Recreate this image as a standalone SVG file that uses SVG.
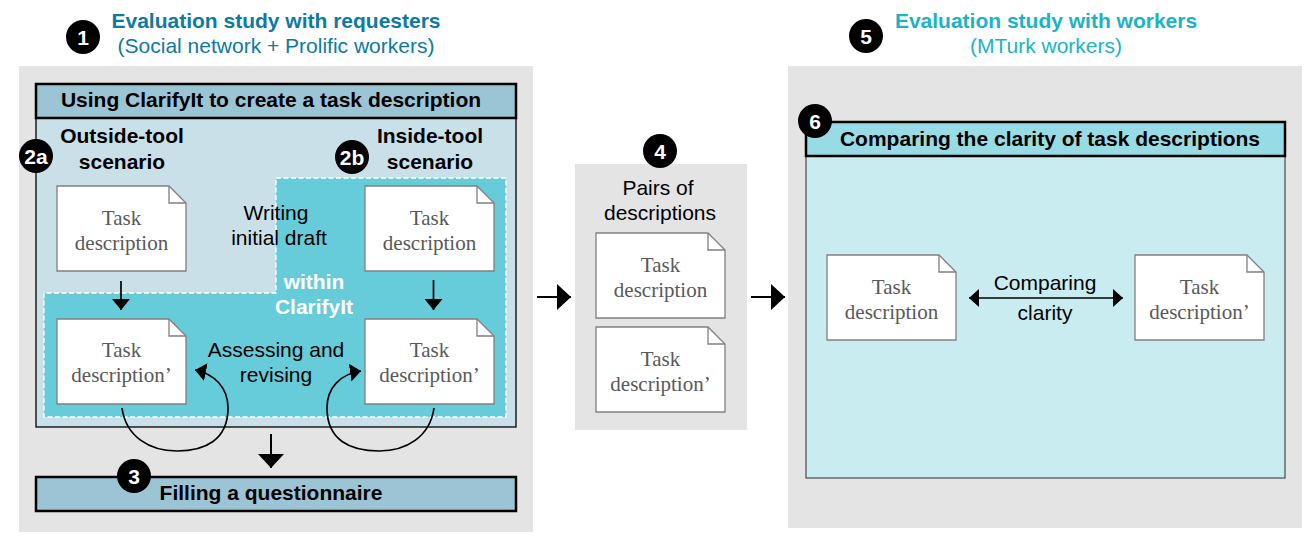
<svg xmlns="http://www.w3.org/2000/svg" width="1316" height="542" viewBox="0 0 1316 542">
<style>
text{font-family:"Liberation Sans",Arial,sans-serif;text-anchor:middle;fill:#000}
.h{font-size:21px;font-weight:700}
.hs{font-size:21px}
.b{font-size:21px;font-weight:700}
.r{font-size:21px}
.d{font-family:"Liberation Serif","Times New Roman",serif;font-size:21px;fill:#595959}
.n{font-family:"Liberation Sans",Arial,sans-serif;font-size:21px;font-weight:700;fill:#fff}
.doc{fill:#fff;stroke:#808080;stroke-width:1.3}
.fold{fill:none;stroke:#808080;stroke-width:1.3}
.panel{fill:#e4e4e4}
.ln{fill:none;stroke:#000;stroke-width:1.7}
.ln2{fill:none;stroke:#000;stroke-width:2}
</style>
<defs>
<marker id="ah" markerUnits="userSpaceOnUse" markerWidth="28" markerHeight="28" refX="14" refY="14" orient="auto"><path d="M0,1 L14,14 L0,27 Z" fill="#000"/></marker>
<marker id="as" markerUnits="userSpaceOnUse" markerWidth="12" markerHeight="20" refX="11" refY="9" orient="auto"><path d="M0,0 L11,9 L0,18 Z" fill="#000"/></marker>
<marker id="ab" markerUnits="userSpaceOnUse" markerWidth="10" markerHeight="20" refX="10" refY="9" orient="auto-start-reverse"><path d="M0,0 L10,9 L0,18 Z" fill="#000"/></marker>
<path id="docshape" d="M0,0 H112 L129,17 V85 H0 Z"/>
</defs>
<g id="panels">
<rect class="panel" x="19" y="66" width="514" height="466"/>
<rect class="panel" x="575" y="164" width="172" height="266"/>
<rect class="panel" x="788" y="66" width="514" height="462"/>
</g>
<g id="requester-box">
<rect x="36" y="118" width="480" height="309" fill="#c9e0e8" stroke="#000" stroke-width="1.3"/>
<path d="M276,178 H506 V417 H44 V293 H276 Z" fill="#66ccd9" stroke="#fff" stroke-width="1.3" stroke-dasharray="5 2.5"/>
<rect x="36" y="84" width="480" height="34" fill="#9bc4d4" stroke="#000" stroke-width="2.5"/>
<text class="b" x="271" y="107">Using ClarifyIt to create a task description</text>
<text class="b" x="122" y="143">Outside-tool</text>
<text class="b" x="122" y="169">scenario</text>
<text class="b" x="430" y="143">Inside-tool</text>
<text class="b" x="430" y="169">scenario</text>
<text class="r" x="276" y="220">Writing</text>
<text class="r" x="279" y="245">initial draft</text>
<text class="b" x="314" y="289" style="fill:#fff">within</text>
<text class="b" x="314" y="314" style="fill:#fff">ClarifyIt</text>
<text class="r" x="276" y="357">Assessing and</text>
<text class="r" x="276" y="382">revising</text>
</g>
<g id="questionnaire">
<rect x="36" y="477" width="480" height="34" fill="#9bc4d4" stroke="#000" stroke-width="2.5"/>
<text class="b" x="271" y="500">Filling a questionnaire</text>
</g>
<g id="clarity-box">
<rect x="806" y="156" width="479" height="322" fill="#c9ecf1" stroke="#555" stroke-width="1.3"/>
<rect x="806" y="122" width="479" height="34" fill="#97dce5" stroke="#000" stroke-width="2.5"/>
<text class="b" x="1050" y="146">Comparing the clarity of task descriptions</text>
<text class="r" x="1045" y="290">Comparing</text>
<text class="r" x="1045" y="320">clarity</text>
</g>
<g id="doc1" transform="translate(57,186)"><use href="#docshape" class="doc"/><path class="fold" d="M112,0 V17 H129"/><text class="d" x="64.500" y="39">Task</text><text class="d" x="64.500" y="64">description</text></g>
<g id="doc2" transform="translate(365,186)"><use href="#docshape" class="doc"/><path class="fold" d="M112,0 V17 H129"/><text class="d" x="64.500" y="39">Task</text><text class="d" x="64.500" y="64">description</text></g>
<g id="doc3" transform="translate(57,319)"><use href="#docshape" class="doc"/><path class="fold" d="M112,0 V17 H129"/><text class="d" x="64.500" y="38">Task</text><text class="d" x="64.500" y="63">description’</text></g>
<g id="doc4" transform="translate(365,319)"><use href="#docshape" class="doc"/><path class="fold" d="M112,0 V17 H129"/><text class="d" x="64.500" y="38">Task</text><text class="d" x="64.500" y="63">description’</text></g>
<g id="doc5" transform="translate(596,233)"><use href="#docshape" class="doc"/><path class="fold" d="M112,0 V17 H129"/><text class="d" x="64.500" y="39">Task</text><text class="d" x="64.500" y="64">description</text></g>
<g id="doc6" transform="translate(596,327)"><use href="#docshape" class="doc"/><path class="fold" d="M112,0 V17 H129"/><text class="d" x="64.500" y="39">Task</text><text class="d" x="64.500" y="64">description’</text></g>
<g id="doc7" transform="translate(827,255)"><use href="#docshape" class="doc"/><path class="fold" d="M112,0 V17 H129"/><text class="d" x="64.500" y="39">Task</text><text class="d" x="64.500" y="64">description</text></g>
<g id="doc8" transform="translate(1135,255)"><use href="#docshape" class="doc"/><path class="fold" d="M112,0 V17 H129"/><text class="d" x="64.500" y="39">Task</text><text class="d" x="64.500" y="64">description’</text></g>
<g id="pairs-label">
<text class="r" x="658" y="195">Pairs of</text>
<text class="r" x="660" y="220">descriptions</text>
</g>
<g id="titles">
<text class="h" x="276" y="28" style="fill:#0e7aa0">Evaluation study with requesters</text>
<text class="hs" x="276" y="53" style="fill:#0e7aa0">(Social network + Prolific workers)</text>
<text class="h" x="1046" y="28" style="fill:#1ab4c6">Evaluation study with workers</text>
<text class="hs" x="1046" y="53" style="fill:#1ab4c6">(MTurk workers)</text>
</g>
<g id="connectors">
<path class="ln" d="M121,281 V310" marker-end="url(#as)"/>
<path class="ln" d="M433.500,280 V310" marker-end="url(#as)"/>
<path class="ln2" d="M271,434 V468" marker-end="url(#ah)"/>
<path class="ln2" d="M537,297 H571" marker-end="url(#ah)"/>
<path class="ln2" d="M751,297 H785" marker-end="url(#ah)"/>
<path class="ln" d="M122,408 C126,437 150,451 177,451 C205,451 228,440 228,408 C228,388 215,374 195,370" marker-end="url(#as)"/>
<path class="ln" d="M434,408 C430,437 406,451 379,451 C350,451 327,440 327,408 C327,388 340,374 361,371" marker-end="url(#as)"/>
<path class="ln" d="M969,298 H1123" marker-start="url(#ab)" marker-end="url(#ab)"/>
</g>
<g id="badge1"><circle cx="83" cy="37" r="17"/><text class="n" x="83" y="44.500">1</text></g>
<g id="badge2a"><circle cx="36" cy="156" r="17"/><text class="n" x="36" y="163.500">2a</text></g>
<g id="badge2b"><circle cx="352" cy="157" r="17"/><text class="n" x="352" y="164.500">2b</text></g>
<g id="badge3"><circle cx="134" cy="476" r="17"/><text class="n" x="134" y="483.500">3</text></g>
<g id="badge4"><circle cx="660" cy="151" r="17"/><text class="n" x="660" y="158.500">4</text></g>
<g id="badge5"><circle cx="866" cy="36" r="17"/><text class="n" x="866" y="43.500">5</text></g>
<g id="badge6"><circle cx="815" cy="121" r="17"/><text class="n" x="815" y="128.500">6</text></g>
</svg>
